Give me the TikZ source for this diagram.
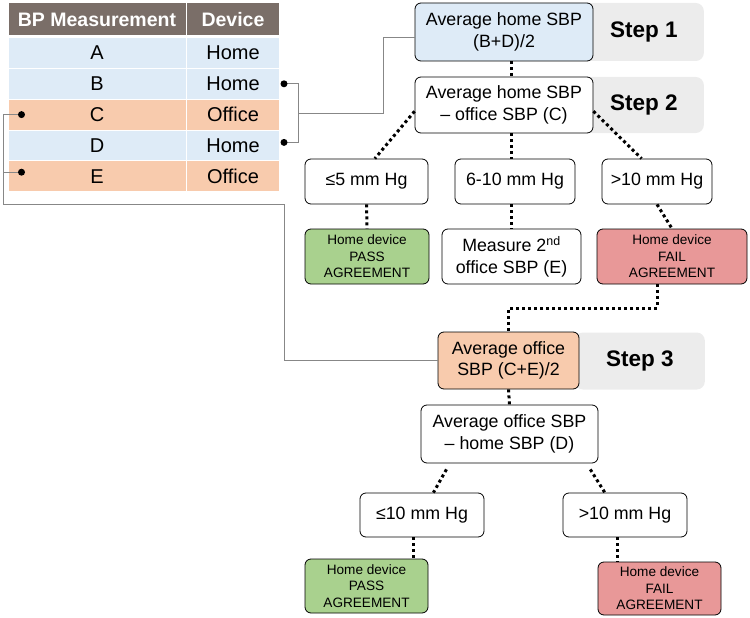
\documentclass[tikz,border=0pt]{standalone}
\usepackage{fontspec}
\setmainfont{Liberation Sans}
\usetikzlibrary{calc}
\definecolor{hdrbg}{RGB}{122,110,104}
\definecolor{homebg}{RGB}{222,235,247}
\definecolor{offbg}{RGB}{248,203,173}
\definecolor{passbg}{RGB}{169,209,142}
\definecolor{failbg}{RGB}{232,152,152}
\definecolor{stepgray}{RGB}{236,236,236}
\definecolor{linkgray}{RGB}{135,135,135}

\begin{document}
\begin{tikzpicture}[x=1pt, y=-1pt,
    box/.style={draw, rounded corners=6pt, line width=0.8pt, align=center, inner sep=2pt,
        font=\fontsize{17.8}{21.5}\selectfont},
    small/.style={box, font=\fontsize{13.6}{16.6}\selectfont},
    steplab/.style={fill=stepgray, rounded corners=8pt, anchor=east,
        font=\fontsize{22.5}{26}\selectfont\bfseries},
    dots/.style={line width=3pt, dash pattern=on 3pt off 3pt},
    link/.style={draw=linkgray, line width=1pt},
    cell/.style={draw=white, line width=1pt, minimum height=30.8pt, inner sep=0pt,
        font=\fontsize{20}{22}\selectfont},
    hdr/.style={cell, fill=hdrbg, text=white, minimum height=33pt,
        font=\fontsize{19.5}{22}\selectfont\bfseries}]
    \useasboundingbox (0,0) rectangle (750,618);

    % table of readings
    \node[hdr, minimum width=178pt] (h1) at (97,19.5) {BP Measurement};
    \node[hdr, minimum width=93pt] (h2) at (233,19.5) {Device};
    \foreach \lab/\dev/\col [count=\i] in {A/Home/homebg, B/Home/homebg, C/Office/offbg, D/Home/homebg, E/Office/offbg} {
        \node[cell, fill=\col, minimum width=178pt] (m\lab) at (97,{22.2+30.8*\i}) {\lab};
        \node[cell, fill=\col, minimum width=93pt] (d\lab) at (233,{22.2+30.8*\i}) {\dev};
    }

    % step labels behind the boxes
    \node[steplab, minimum width=120pt, minimum height=58pt] (lab1) at (704,32) {Step 1};
    \node[steplab, minimum width=120pt, minimum height=56pt] (lab2) at (704,105) {Step 2};
    \node[steplab, minimum width=130pt, minimum height=57pt] (lab3) at (705,361) {Step 3};

    % step 1 and 2
    \node[box, fill=homebg, minimum width=178pt, minimum height=58pt] (step1) at (504,32) {Average home SBP\\(B+D)/2};
    \node[box, fill=white, minimum width=178pt, minimum height=56pt] (step2) at (504,105) {Average home SBP\\– office SBP (C)};
    \node[box, minimum width=123pt, minimum height=45pt] (r5) at (366.5,181.5) {≤5 mm Hg};
    \node[box, minimum width=120pt, minimum height=45pt] (r610) at (515,181.5) {6-10 mm Hg};
    \node[box, minimum width=110pt, minimum height=45pt] (rgt10) at (657,181.5) {>10 mm Hg};
    \node[small, fill=passbg, minimum width=124pt, minimum height=55pt] (pass1) at (367,256.5) {Home device\\PASS\\AGREEMENT};
    \node[box, minimum width=139pt, minimum height=55pt] (meas) at (511.5,256.5) {Measure 2\textsuperscript{nd}\\office SBP (E)};
    \node[small, fill=failbg, minimum width=150pt, minimum height=55pt] (fail1) at (672,256.5) {Home device\\FAIL\\AGREEMENT};

    % step 3
    \node[box, fill=offbg, minimum width=141pt, minimum height=57pt] (step3) at (508.5,360.5) {Average office\\SBP (C+E)/2};
    \node[box, minimum width=177pt, minimum height=58pt] (avg2) at (509.5,434) {Average office SBP\\– home SBP (D)};
    \node[box, minimum width=124pt, minimum height=44pt] (le10) at (422,515) {≤10 mm Hg};
    \node[box, minimum width=124pt, minimum height=44pt] (gt10b) at (625,515) {>10 mm Hg};
    \node[small, fill=passbg, minimum width=123pt, minimum height=54pt] (pass2) at (366.5,586) {Home device\\PASS\\AGREEMENT};
    \node[small, fill=failbg, minimum width=123pt, minimum height=53pt] (fail2) at (659.5,588.5) {Home device\\FAIL\\AGREEMENT};

    % dotted flow
    \draw[dots] (step1.south -| meas.north) -- (step2.north -| meas.north);
    \draw[dots] (step2.184) -- (r5.70);
    \draw[dots] (step2.south -| meas.north) -- (r610.north -| meas.north);
    \draw[dots] (step2.-4) -- (rgt10.124);
    \draw[dots] (r5.south) -- (pass1.north);
    \draw[dots] (r610.south -| meas.north) -- (meas.north);
    \draw[dots] (rgt10.south) -- (fail1.north);
    \draw[dots] (rgt10.south |- fail1.south) -- ++(0,24) -| (step3.north);
    \draw[dots] (step3.south) -- (avg2.north);
    \draw[dots] ([yshift=-6pt]avg2.205) -- (le10.63);
    \draw[dots] ([yshift=-6pt]avg2.-20) -- (gt10b.132);
    \draw[dots] (le10.250) -- (le10.250 |- pass2.north);
    \draw[dots] (gt10b.252) -- (gt10b.252 |- fail2.north);

    % grey links from the table
    \coordinate (dotB) at ([xshift=4pt]dB.east);
    \coordinate (dotD) at ([xshift=4pt,yshift=3pt]dD.east);
    \coordinate (dotC) at ([xshift=14pt]mC.west);
    \coordinate (dotE) at ([xshift=14pt,yshift=4pt]mE.west);
    \coordinate (bmid) at ([xshift=14pt]$(dotB)!.5!(dotD)$);
    \coordinate (cbend) at ([xshift=4pt,yshift=-12pt]dE.south east);
    \draw[link] (dotB) -- ++(14,0) |- (dotD);
    \draw[link] (bmid) -- ++(85,0) |- ([yshift=-6pt]step1.west);
    \draw[link] (dotE) -- ++(-18,0);
    \draw[link] (dotC) -- ++(-18,0) |- (cbend) |- (step3.west);
    \foreach \d in {dotB,dotD,dotC,dotE} \fill (\d) circle (3.5pt);
\end{tikzpicture}
\end{document}
